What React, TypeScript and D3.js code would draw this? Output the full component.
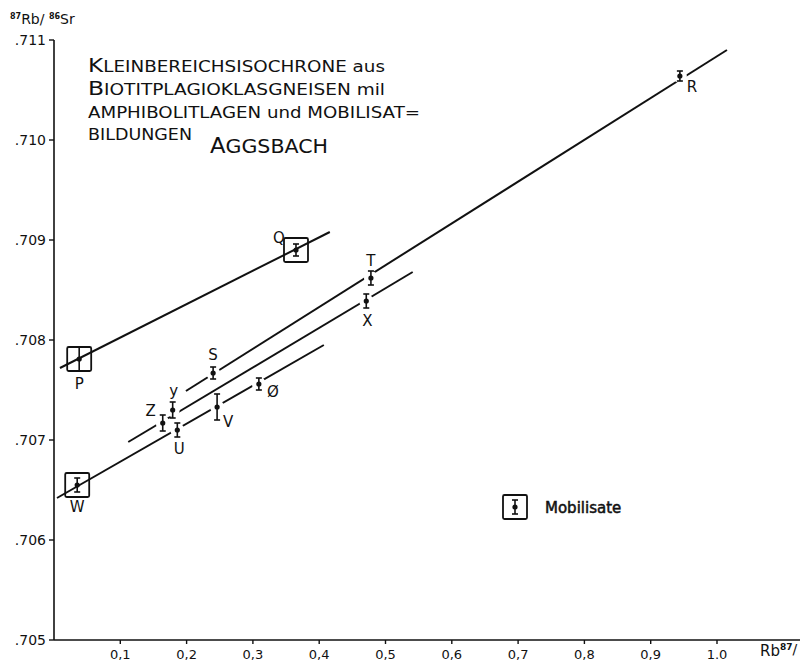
import React, { useEffect } from 'react';
import * as d3 from 'd3';

// Rb87/Sr86 vs Sr87/Sr86 sample values
const sampleNames = ['P', 'W', 'Z', 'y', 'U', 'S', 'V', 'Ø', 'Q', 'T', 'X', 'R'];
const rbSr = [0.038, 0.035, 0.164, 0.179, 0.186, 0.24, 0.246, 0.309, 0.365, 0.478, 0.471, 0.944];
const srSr = [0.70781, 0.70655, 0.70717, 0.7073, 0.7071, 0.70767, 0.70733, 0.70756, 0.7089, 0.70862, 0.70839, 0.71064];
const errors = [0.00012, 0.00007, 0.00008, 0.00008, 0.00007, 0.00006, 0.00013, 0.00006, 0.00006, 0.00007, 0.00007, 0.00005];
const boxed = ['P', 'W', 'Q'];

// isochron segments: [x0, y0, x1, y1]
const isochrons = [
  [0.009, 0.70772, 0.416, 0.70908],
  [0.0045, 0.70642, 0.407, 0.70795],
  [0.112, 0.70698, 0.541, 0.70868],
  [0.199, 0.70749, 1.015, 0.7109],
];

const yTicks = [0.705, 0.706, 0.707, 0.708, 0.709, 0.71, 0.711];
const yTickLabels = ['.705', '.706', '.707', '.708', '.709', '.710', '.711'];
const xTicks = [0.1, 0.2, 0.3, 0.4, 0.5, 0.6, 0.7, 0.8, 0.9, 1.0];
const xTickLabels = ['0,1', '0,2', '0,3', '0,4', '0,5', '0,6', '0,7', '0,8', '0,9', '1.0'];

// label offsets (px) relative to each point
const labelOffsets: Record<string, [number, number]> = {
  P: [0, 30], W: [0, 27], Z: [-12, -7], y: [1, -14], U: [2, 24], S: [0, -13],
  V: [11, 20], 'Ø': [14, 13], Q: [-17, -7], T: [0, -12], X: [1, 25], R: [12, 16],
};

const font = '"DejaVu Sans", sans-serif';

const App = () => {
  useEffect(() => {
    document.body.style.margin = '0';
  }, []);

  const x = d3.scaleLinear().domain([0, 1]).range([54, 717]);
  const y = d3.scaleLinear().domain([0.705, 0.711]).range([640, 40]);

  const points = sampleNames.map((name, i) => ({ name, x: rbSr[i], y: srSr[i], err: errors[i] }));

  return (
    <svg width={810} height={665} style={{ display: 'block', background: '#fff' }} fontFamily={font}>
      {/* axes */}
      <line x1={x(0)} x2={x(0)} y1={y(0.705)} y2={y(0.711)} stroke="#111" strokeWidth={1.6} />
      <line x1={x(0)} x2={800} y1={y(0.705)} y2={y(0.705)} stroke="#111" strokeWidth={1.6} />
      {yTicks.map((t, i) => (
        <g key={t}>
          <line x1={x(0) - 5} x2={x(0)} y1={y(t)} y2={y(t)} stroke="#111" strokeWidth={1.4} />
          <text x={x(0) - 8} y={y(t) + 5} textAnchor="end" fontSize={14} fill="#111">{yTickLabels[i]}</text>
        </g>
      ))}
      {xTicks.map((t, i) => (
        <g key={t}>
          <line x1={x(t)} x2={x(t)} y1={y(0.705)} y2={y(0.705) + 4} stroke="#111" strokeWidth={1.4} />
          <text x={x(t)} y={y(0.705) + 19} textAnchor="middle" fontSize={13} fill="#111">{xTickLabels[i]}</text>
        </g>
      ))}
      <text x={760} y={656} fontSize={15} fill="#111">
        Rb<tspan dy={-6} fontSize={9} fontWeight="bold">87</tspan><tspan fontSize={14} dy={4}>/</tspan>
      </text>
      <text x={10} y={24} fontSize={14} fill="#111">
        <tspan fontSize={8} fontWeight="bold" dy={-5}>87</tspan>
        <tspan dy={5}>Rb/ </tspan>
        <tspan fontSize={8} fontWeight="bold" dy={-5}>86</tspan>
        <tspan dy={5}>Sr</tspan>
      </text>

      {/* title */}
      <g fill="#111" fontSize={15}>
        <text x={88} y={72} textLength={297} lengthAdjust="spacingAndGlyphs">
          <tspan fontSize={19}>K</tspan>LEINBEREICHSISOCHRONE aus
        </text>
        <text x={88} y={95} textLength={297} lengthAdjust="spacingAndGlyphs">
          <tspan fontSize={19}>B</tspan>IOTITPLAGIOKLASGNEISEN mil
        </text>
        <text x={88} y={118} textLength={332} lengthAdjust="spacingAndGlyphs">
          AMPHIBOLITLAGEN und MOBILISAT=
        </text>
        <text x={88} y={140} textLength={104} lengthAdjust="spacingAndGlyphs">BILDUNGEN</text>
        <text x={210} y={153} fontSize={21} textLength={118} lengthAdjust="spacingAndGlyphs">
          A<tspan fontSize={19}>GGSBACH</tspan>
        </text>
      </g>

      {/* isochrons */}
      {isochrons.map((s, i) => (
        <line key={i} x1={x(s[0])} y1={y(s[1])} x2={x(s[2])} y2={y(s[3])} stroke="#111" strokeWidth={2} />
      ))}
      {/* gaps where the lines meet the unboxed points */}
      {points.filter(p => !boxed.includes(p.name)).map(p => (
        <circle key={'g' + p.name} cx={x(p.x)} cy={y(p.y)} r={7} fill="#fff" />
      ))}

      {/* points */}
      {points.map(p => {
        const cx = x(p.x);
        const cy = y(p.y);
        const top = y(p.y + p.err);
        const bot = y(p.y - p.err);
        const [dx, dy] = labelOffsets[p.name];
        return (
          <g key={p.name}>
            {boxed.includes(p.name) && (
              <rect x={cx - 12} y={cy - 12} width={24} height={24} fill="none" stroke="#111" strokeWidth={1.8} rx={1.5} />
            )}
            <line x1={cx} x2={cx} y1={top} y2={bot} stroke="#111" strokeWidth={1.6} />
            <line x1={cx - 3} x2={cx + 3} y1={top} y2={top} stroke="#111" strokeWidth={1.6} />
            <line x1={cx - 3} x2={cx + 3} y1={bot} y2={bot} stroke="#111" strokeWidth={1.6} />
            <circle cx={cx} cy={cy} r={2.6} fill="#111" />
            <text x={cx + dx} y={cy + dy} textAnchor="middle" fontSize={15} fill="#111">{p.name}</text>
          </g>
        );
      })}

      {/* legend */}
      <g>
        <rect x={503} y={495} width={24} height={24} fill="none" stroke="#111" strokeWidth={1.8} rx={1.5} />
        <line x1={515} x2={515} y1={500} y2={514} stroke="#111" strokeWidth={1.6} />
        <line x1={512} x2={518} y1={500} y2={500} stroke="#111" strokeWidth={1.6} />
        <line x1={512} x2={518} y1={514} y2={514} stroke="#111" strokeWidth={1.6} />
        <circle cx={515} cy={507} r={2.6} fill="#111" />
        <text x={545} y={513} fontSize={15} fill="#111" stroke="#111" strokeWidth={0.5}>Mobilisate</text>
      </g>
    </svg>
  );
};

export default App;
